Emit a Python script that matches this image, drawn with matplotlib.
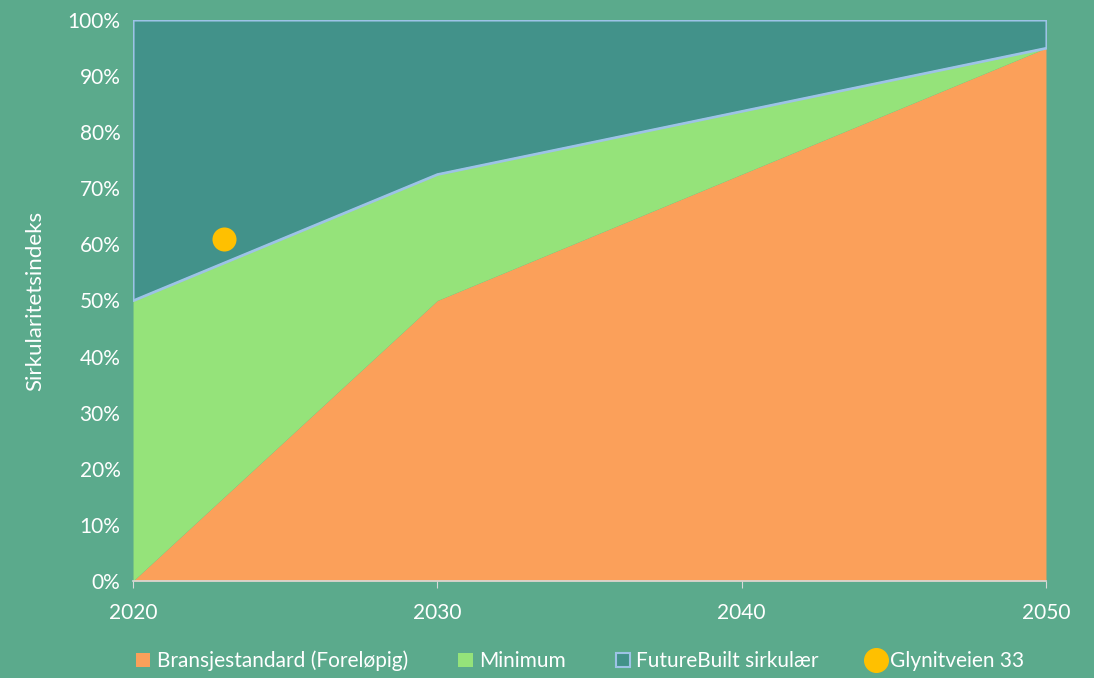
import numpy as np
import matplotlib as mpl
import matplotlib.pyplot as plt
from matplotlib.patches import Patch
from matplotlib.lines import Line2D

# Data
years = [2020, 2030, 2050]
bransje = [0, 50, 95]
minimum_top = [50, 72.5, 95]
futurebuilt_top = [100, 100, 100]
glynit_year = [2023]
glynit_value = [61]

# Colours
bg = "#5BAA8C"
c_orange = "#FBA05A"
c_green = "#95E37A"
c_teal = "#42928A"
c_edge = "#9DC3E6"
c_point = "#FFC000"

mpl.rcParams["font.family"] = ["Lato", "DejaVu Sans"]
mpl.rcParams["font.size"] = 15

fig = plt.figure(figsize=(10.94, 6.78), dpi=100, facecolor=bg)
ax = fig.add_axes([0.1216, 0.1431, 0.8345, 0.8274])
ax.set_facecolor(bg)

ax.fill_between(years, 0, bransje, color=c_orange, lw=0)
ax.fill_between(years, bransje, minimum_top, color=c_green, lw=0)
ax.fill_between(years, minimum_top, futurebuilt_top, color=c_teal,
                edgecolor=c_edge, lw=1.5)
ax.plot(years, minimum_top, color=c_edge, lw=1.5)
ax.scatter(glynit_year, glynit_value, s=300, color=c_point, zorder=5, lw=0)

ax.set_xlim(2020, 2050)
ax.set_ylim(0, 100)
ax.set_xticks([2020, 2030, 2040, 2050])
ax.set_yticks(np.arange(0, 101, 10))
ax.set_yticklabels([f"{v}%" for v in range(0, 101, 10)])

for s in ["top", "left", "right"]:
    ax.spines[s].set_visible(False)
ax.spines["bottom"].set_color("#D9D9D9")
ax.spines["bottom"].set_linewidth(1.2)
ax.tick_params(axis="x", colors="white", length=5, color="#D9D9D9", pad=11)
ax.tick_params(axis="y", colors="white", length=0, pad=9)
ax.set_ylabel("Sirkularitetsindeks", color="white", fontsize=16, labelpad=16)

handles = [
    Patch(facecolor=c_orange, edgecolor="none"),
    Patch(facecolor=c_green, edgecolor="none"),
    Patch(facecolor=c_teal, edgecolor=c_edge, lw=1.5),
    Line2D([], [], marker="o", ls="", markersize=17, color=c_point),
]
labels = ["Bransjestandard (Foreløpig)", "Minimum", "FutureBuilt sirkulær", "Glynitveien 33"]
leg = fig.legend(handles, labels, loc="lower center", bbox_to_anchor=(0.53, -0.018),
                 ncol=4, frameon=False, handlelength=0.7, handleheight=0.7,
                 handletextpad=0.3, columnspacing=2.4, fontsize=15)
for t in leg.get_texts():
    t.set_color("white")

plt.savefig("out.png", facecolor=bg)
